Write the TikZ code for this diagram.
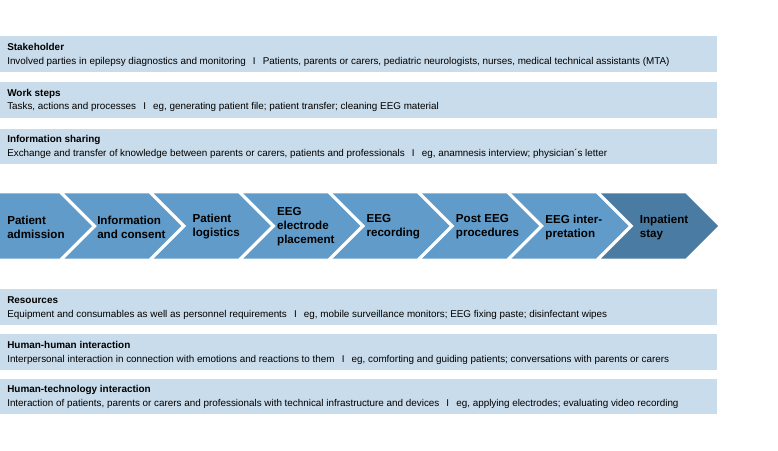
\documentclass[tikz,border=0pt]{standalone}
\usepackage{fontspec}
\setmainfont{Liberation Sans}
\definecolor{bandc}{RGB}{201,220,235}
\definecolor{chev}{RGB}{96,155,201}
\definecolor{chevdark}{RGB}{74,123,163}
\begin{document}
\begin{tikzpicture}[x=0.75pt,y=-0.75pt,
  band/.style={fill=bandc,draw=none,anchor=north west,inner sep=0pt,minimum width=537.75pt,minimum height=26.78pt},
  btitle/.style={anchor=base west,inner sep=0pt,font=\fontsize{7.45}{9}\selectfont\bfseries},
  btext/.style={anchor=base west,inner sep=0pt,font=\fontsize{7.4}{9}\selectfont},
  ctext/.style={anchor=west,inner sep=0pt,align=left,font=\fontsize{8.7}{10.5}\selectfont\bfseries}]
\useasboundingbox (0,0) rectangle (778,450);
% bands
\foreach \y/\t/\b [count=\i] in {
 36/Stakeholder/{Involved parties in epilepsy diagnostics and monitoring \ \,I\, \ Patients, parents or carers, pediatric neurologists, nurses, medical technical assistants (MTA)},
 81.7/Work steps/{Tasks, actions and processes \ \,I\, \ eg, generating patient file; patient transfer; cleaning EEG material},
 128.3/Information sharing/{Exchange and transfer of knowledge between parents or carers, patients and professionals \ \,I\, \ eg, anamnesis interview; physician\textasciiacute s letter},
 289/Resources/{Equipment and consumables as well as personnel requirements \ \,I\, \ eg, mobile surveillance monitors; EEG fixing paste; disinfectant wipes},
 334/Human-human interaction/{Interpersonal interaction in connection with emotions and reactions to them \ \,I\, \ eg, comforting and guiding patients; conversations with parents or carers},
 378.3/Human-technology interaction/{Interaction of patients, parents or carers and professionals with technical infrastructure and devices \ \,I\, \ eg, applying electrodes; evaluating video recording}}
{
 \node[band] (band\i) at (0,\y) {};
 \node[btitle] (bt\i) at (7,\y+14.6) {\t};
 \node[btext] (bx\i) at (7,\y+28.2) {\b};
}
% chevrons
\fill[chev] (0,193.3) -- (59.3,193.3) -- (92,226) -- (59.3,258.7) -- (0,258.7) -- cycle;
\foreach \i in {2,...,8}{
 \pgfmathsetmacro{\tp}{92+89.43*(\i-2)}
 \pgfmathsetmacro{\tc}{92+89.43*(\i-1)}
 \pgfmathsetmacro{\col}{ifthenelse(\i==8,"chevdark","chev")}
 \fill[\col] (\tp-27.7,193.3) -- (\tc-32.7,193.3) -- (\tc,226) -- (\tc-32.7,258.7) -- (\tp-27.7,258.7) -- (\tp+5,226) -- cycle;
}
\node[ctext] (c1) at (7,227) {Patient\\admission};
\node[ctext] (c2) at (97,227) {Information\\and consent};
\node[ctext] (c3) at (192.4,227) {Patient\\logistics};
\node[ctext] (c4) at (276.9,227) {EEG\\electrode\\placement};
\node[ctext] (c5) at (366.3,227) {EEG\\recording};
\node[ctext] (c6) at (455.7,227) {Post EEG\\procedures};
\node[ctext] (c7) at (545.2,227) {EEG inter-\\pretation};
\node[ctext] (c8) at (639.6,227) {Inpatient\\stay};
\end{tikzpicture}
\end{document}
